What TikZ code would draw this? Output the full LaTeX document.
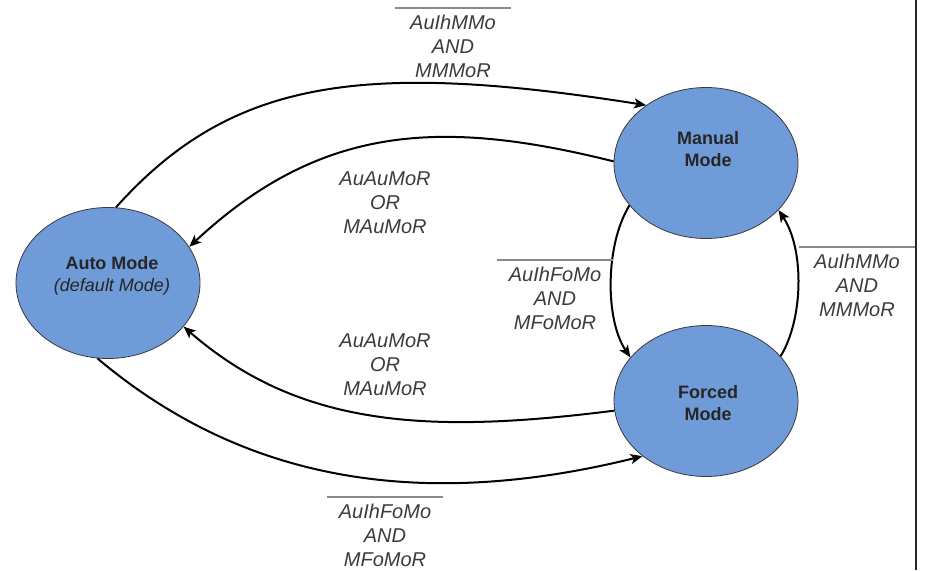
\documentclass[tikz,border=0pt]{standalone}
\usepackage{fontspec}
\setmainfont{Liberation Sans}
\usetikzlibrary{shapes.geometric,arrows.meta}
\definecolor{modeblue}{HTML}{6F9BD8}
\definecolor{rimgray}{HTML}{3A3A3A}
\definecolor{condgray}{HTML}{3C3C3C}
\definecolor{bargray}{HTML}{8A8A8A}
\begin{document}
\begin{tikzpicture}[x=1pt,y=-1pt,
  mode/.style={ellipse, draw=rimgray, line width=0.8pt, fill=modeblue,
    minimum width=184pt, minimum height=151pt, inner sep=0pt},
  modetext/.style={align=center, font=\fontsize{18}{22}\selectfont\bfseries,
    text=black!85, inner sep=0pt},
  cond/.style={align=center, font=\fontsize{20}{24}\selectfont\itshape,
    text=condgray, inner sep=0pt},
  trans/.style={line width=2pt, -{Stealth[length=12pt,width=10pt,inset=3pt]}},
  bar/.style={draw=bargray, line width=1.8pt}]

\fill[white] (0,0) rectangle (925,570);
\useasboundingbox (0,0) rectangle (925,570);

% the three operating modes
\node[mode] (auto)   at (108,283) {};
\node[mode] (manual) at (706,163) {};
\node[mode] (forced) at (706,401) {};

\node[modetext] (autotxt) at (112,276) {Auto Mode\\{\mdseries\itshape (default Mode)}};
\node[modetext] (mantxt)  at (708,149) {Manual\\Mode};
\node[modetext] (fortxt)  at (708,403) {Forced\\Mode};

% transitions
\draw[trans] (auto.84)    .. controls (230,80)  and (360,60)  .. (manual.136);
\draw[trans] (manual.179) .. controls (440,118) and (320,125) .. (auto.24);
\draw[trans] (forced.186) .. controls (430,434) and (300,428) .. (auto.-30);
\draw[trans] (auto.-98)   .. controls (230,470) and (400,516) .. (forced.221);
\draw[trans] (manual.209) .. controls (605,245) and (605,320) .. (forced.150);
\draw[trans] (forced.31)  .. controls (803,320) and (805,250) .. (manual.-33);

% transition conditions
\node[cond] (c1) at (453,46)  {AuIhMMo\\AND\\MMMoR};
\node[cond] (c2) at (385,203) {AuAuMoR\\OR\\MAuMoR};
\node[cond] (c3) at (385,365) {AuAuMoR\\OR\\MAuMoR};
\node[cond] (c4) at (385,535) {AuIhFoMo\\AND\\MFoMoR};
\node[cond] (c5) at (555,298) {AuIhFoMo\\AND\\MFoMoR};
\node[cond] (c6) at (857,285) {AuIhMMo\\AND\\MMMoR};

% negation bars over the first term
\foreach \c in {c1,c4,c5,c6}
  \draw[bar] ([shift={(-58pt,38pt)}]\c.center) -- ([shift={(58pt,38pt)}]\c.center);

% frame edge on the right
\draw[line width=1.5pt, black!85] (916,0) -- (916,570);
\end{tikzpicture}
\end{document}
